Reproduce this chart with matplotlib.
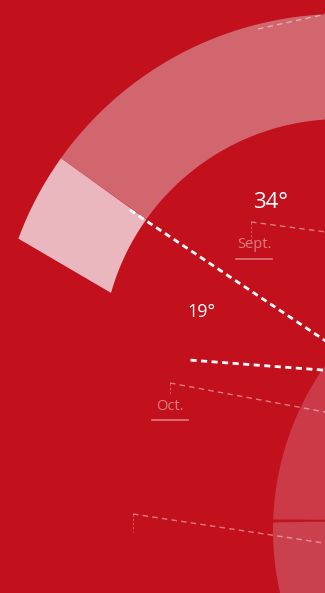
import numpy as np
import matplotlib
matplotlib.use('Agg')
import matplotlib.pyplot as plt

# data
degrees = ['34°', '19°']
months = ['Sept.', 'Oct.']

# geometry of the ring fragment (pixel space of the crop)
ring_center = (341, 358)
ring_r = (239, 344)
band_span = (55, 144.5)          # pale band, degrees
seg_outer = (144.5, 159.7)       # light cap segment, outer edge
seg_inner = (144.6, 164.2)       # light cap segment, inner edge

ray_center = (375, 374)
ray_angles = [146.2, 175.7]
ray_start = [295, 185]

thin_starts = [(251, 222), (170, 383), (133, 514), (258, 29)]
thin_slopes = [0.133, 0.187, 0.152, -0.22]
tick_len = [18, 12, 18, 0]

disc_center = (559, 530)
disc_r = 286

bg = '#c2101d'
plt.rcParams['font.family'] = ['Open Sans', 'DejaVu Sans']

fig = plt.figure(figsize=(3.25, 5.93), dpi=100)
fig.patch.set_facecolor(bg)
ax = fig.add_axes([0, 0, 1, 1])
ax.set_facecolor(bg)
ax.set_xlim(0, 325)
ax.set_ylim(593, 0)
ax.axis('off')


def arc(c, r, a0, a1, n=200):
    t = np.radians(np.linspace(a0, a1, n))
    return c[0] + r * np.cos(t), c[1] - r * np.sin(t)


# pale band
xo, yo = arc(ring_center, ring_r[1], band_span[0], band_span[1])
xi, yi = arc(ring_center, ring_r[0], band_span[1], band_span[0])
ax.fill(np.r_[xo, xi], np.r_[yo, yi], color='#d2666f', lw=0)

# light cap
xo, yo = arc(ring_center, ring_r[1], seg_outer[0], seg_outer[1], 40)
xi, yi = arc(ring_center, ring_r[0], seg_inner[1], seg_inner[0], 40)
ax.fill(np.r_[xo, xi], np.r_[yo, yi], color='#e9b7bd', lw=0)

# big disc lower right
t = np.radians(np.linspace(90, 270, 300))
dx = disc_center[0] + disc_r * np.cos(t)
dy = disc_center[1] - disc_r * np.sin(t)
up = dy <= 520
ax.fill(np.r_[dx[up], 400], np.r_[dy[up], 520], color='#cd3a47', lw=0)
lo = dy >= 520
ax.fill(np.r_[dx[lo], 400], np.r_[dy[lo], 520], color='#ca404d', lw=0)
ax.plot([273, 325], [520.5, 520.5], color='#b0202c', lw=0.5, alpha=0.6)

# thick dotted rays
for a, r0 in zip(ray_angles, ray_start):
    rr = np.array([r0, 20])
    x = ray_center[0] + rr * np.cos(np.radians(a))
    y = ray_center[1] - rr * np.sin(np.radians(a))
    ax.plot(x, y, color='white', lw=2.0, linestyle=(0, (2.2, 1.6)),
            solid_capstyle='butt', dash_capstyle='butt')

# thin dashed guides
for (x0, y0), s, tl in zip(thin_starts, thin_slopes, tick_len):
    x1 = 340
    ax.plot([x0, x1], [y0, y0 + s * (x1 - x0)], color='white', alpha=0.45,
            lw=1.0, linestyle=(0, (4, 3)))
    if tl:
        ax.plot([x0, x0], [y0, y0 + tl], color='white', alpha=0.35,
                lw=0.6, linestyle=(0, (3, 2)))

# labels
ax.text(270, 202, degrees[0], color='white', fontsize=16, ha='center', va='center')
ax.text(201, 312, degrees[1], color='white', fontsize=13, ha='center', va='center')

month_pos = [(254, 245), (170, 406)]
for m, (x, y) in zip(months, month_pos):
    ax.text(x, y, m, color='white', alpha=0.45, fontsize=10.5, ha='center', va='center')
    ax.plot([x - 18, x + 18], [y + 13.5, y + 13.5], color='white', alpha=0.4, lw=1.3)

fig.savefig('out.png', dpi=100, facecolor=bg)
